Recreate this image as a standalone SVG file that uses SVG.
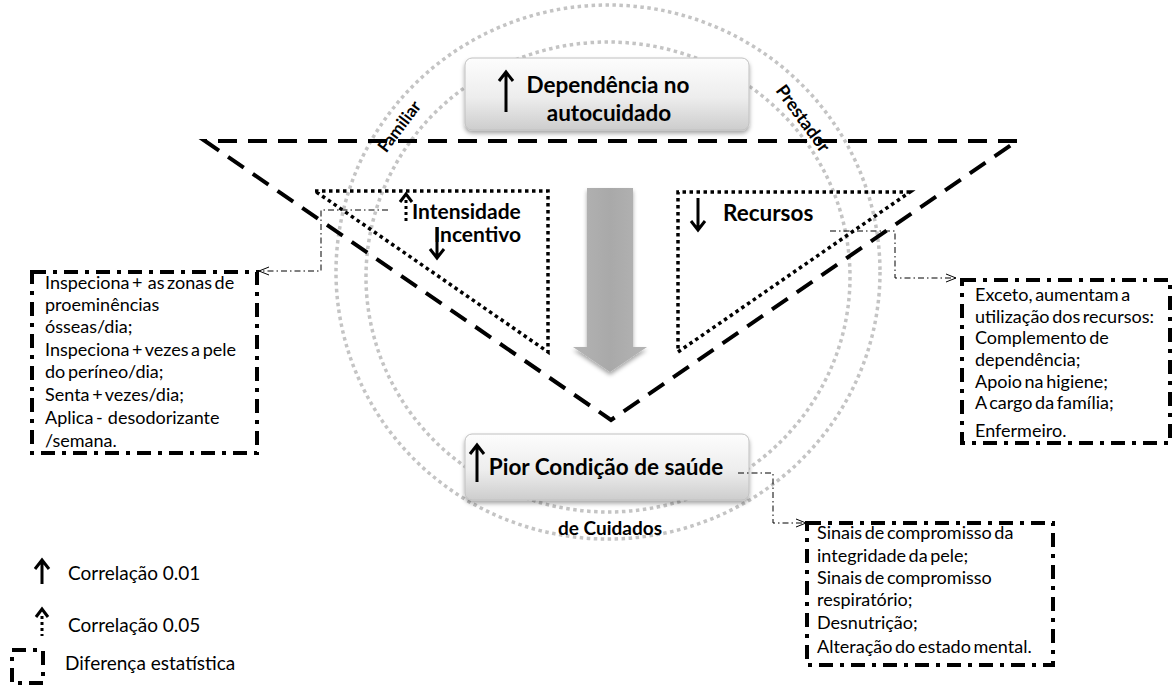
<svg xmlns="http://www.w3.org/2000/svg" width="1172" height="688" viewBox="0 0 1172 688">
<defs>
<style>
.t{font-family:Lato,'Liberation Sans',sans-serif;font-size:18px;fill:#000;word-spacing:-2px}
.lg{font-family:Lato,'Liberation Sans',sans-serif;font-size:19px;fill:#000}
.b{font-family:Lato,'Liberation Sans',sans-serif;font-weight:bold;fill:#000}
.ring{fill:none;stroke:#c4c4c4;stroke-width:3.5;stroke-dasharray:3.5 3.5}
.big{fill:none;stroke:#000;stroke-width:4;stroke-dasharray:19 11}
.dot{fill:none;stroke:#000;stroke-width:3.5;stroke-dasharray:3.5 3.5}
.dd{fill:#fff;stroke:#000;stroke-width:4;stroke-dasharray:14 7 4 7}
.con{fill:none;stroke:#000;stroke-width:1;stroke-dasharray:6 3 1.5 3}
.arr{fill:none;stroke:#000;stroke-width:3}
.box{fill:url(#boxg);stroke:#c0c0c0;stroke-width:1}
</style>
<linearGradient id="boxg" x1="0" y1="0" x2="0" y2="1">
<stop offset="0" stop-color="#fdfdfd"/><stop offset="0.55" stop-color="#ededed"/><stop offset="1" stop-color="#cdcdcd"/>
</linearGradient>
<linearGradient id="arrg" x1="0" y1="0" x2="1" y2="0">
<stop offset="0" stop-color="#b4b4b4"/><stop offset="0.5" stop-color="#a9a9a9"/><stop offset="1" stop-color="#b4b4b4"/>
</linearGradient>
<filter id="sh" x="-10%" y="-10%" width="120%" height="140%"><feDropShadow dx="0" dy="3" stdDeviation="2" flood-color="#000" flood-opacity="0.35"/></filter>
<marker id="open" markerWidth="12" markerHeight="10" refX="11" refY="5" orient="auto" markerUnits="userSpaceOnUse"><path d="M1,1 L11,5 L1,9" fill="none" stroke="#000" stroke-width="1"/></marker>
</defs>
<rect width="1172" height="688" fill="#fff"/>

<g id="rings">
<ellipse class="ring" cx="608" cy="272" rx="272" ry="267"/>
<ellipse class="ring" cx="608" cy="277" rx="242" ry="235"/>
</g>

<g id="big-triangle">
<path class="big" d="M1017,141 H205 L611,420 L1017,141"/>
</g>

<g id="triangle-intensidade">
<path class="dot" d="M315,191 H548 V352 Z"/>
<path class="arr" d="M400,202 L406,194 L412,202"/>
<path fill="none" stroke="#000" stroke-width="3" stroke-dasharray="3 3" d="M406,200 V222"/>
<text class="b" font-size="21" x="412" y="219">Intensidade</text>
<text class="b" font-size="21" x="434" y="242">Incentivo</text>
<path class="arr" d="M437,227 V257 M430,249 L437,258 L444,249"/>
</g>

<g id="triangle-recursos">
<path class="dot" d="M910,192 H678 V352 Z"/>
<path class="arr" d="M698,198 V229 M691,221 L698,230 L705,221"/>
<text class="b" font-size="22.5" x="723" y="221">Recursos</text>
</g>

<g id="flow-arrow" filter="url(#sh)">
<path fill="url(#arrg)" d="M587,188 H633 V347 H647 L610,372 L573,347 H587 Z"/>
</g>

<g id="node-dependencia">
<rect class="box" filter="url(#sh)" x="465" y="58" width="284" height="72" rx="7"/>
<path class="arr" d="M506,112 V73 M499,81 L506,72 L513,81"/>
<text class="b" font-size="22.5" x="608" y="93" text-anchor="middle">Dependência no</text>
<text class="b" font-size="22.5" x="609" y="121" text-anchor="middle">autocuidado</text>
</g>

<g id="node-pior">
<rect class="box" filter="url(#sh)" x="465" y="434" width="284" height="66" rx="7"/>
<path class="arr" d="M477,482 V446 M470,454 L477,445 L484,454"/>
<text class="b" font-size="22.5" x="606" y="475" text-anchor="middle">Pior Condição de saúde</text>
</g>

<g id="labels">
<text class="b" font-size="17" transform="translate(404,130) rotate(-53)" text-anchor="middle">Familiar</text>
<text class="b" font-size="18" transform="translate(798,122) rotate(54)" text-anchor="middle">Prestador</text>
<text class="b" font-size="19" x="610" y="535" text-anchor="middle">de Cuidados</text>
</g>

<g id="connectors">
<path class="con" d="M388,210 H321 V271 H259" marker-end="url(#open)"/>
<path class="con" d="M830,231 H895 V278 H956" marker-end="url(#open)"/>
<path class="con" d="M738,473 H773 V523 H806" marker-end="url(#open)"/>
</g>

<g id="box-left">
<rect class="dd" x="32" y="272" width="225" height="181"/>
<text class="t" x="45" xml:space="preserve"><tspan x="45" y="289">Inspeciona +  as zonas de</tspan><tspan x="45" y="311">proeminências</tspan><tspan x="45" y="333">ósseas/dia;</tspan><tspan x="45" y="356">Inspeciona + vezes a pele</tspan><tspan x="45" y="378">do períneo/dia;</tspan><tspan x="45" y="401">Senta + vezes/dia;</tspan><tspan x="45" y="424">Aplica -  desodorizante</tspan><tspan x="45" y="447">/semana.</tspan></text>
</g>

<g id="box-right">
<rect class="dd" x="962" y="280" width="208" height="163"/>
<text class="t" x="975"><tspan x="975" y="301">Exceto, aumentam a</tspan><tspan x="975" y="323">utilização dos recursos:</tspan><tspan x="975" y="344">Complemento de</tspan><tspan x="975" y="366">dependência;</tspan><tspan x="975" y="388">Apoio na higiene;</tspan><tspan x="975" y="409">A cargo da família;</tspan><tspan x="975" y="437">Enfermeiro.</tspan></text>
</g>

<g id="box-sinais">
<rect class="dd" x="807" y="523" width="246" height="142"/>
<text class="t" x="817"><tspan x="817" y="539">Sinais de compromisso da</tspan><tspan x="817" y="562">integridade da pele;</tspan><tspan x="817" y="584">Sinais de compromisso</tspan><tspan x="817" y="606">respiratório;</tspan><tspan x="817" y="629">Desnutrição;</tspan><tspan x="817" y="653">Alteração do estado mental.</tspan></text>
</g>

<g id="legend">
<path class="arr" d="M42,584 V561 M35,569 L42,560 L49,569"/>
<text class="lg" x="68" y="580">Correlação 0.01</text>
<path class="arr" d="M36,617 L42,609 L48,617"/>
<path fill="none" stroke="#000" stroke-width="3" stroke-dasharray="3 3" d="M42,616 V636"/>
<text class="lg" x="68" y="632">Correlação 0.05</text>
<rect class="dd" stroke-width="3.5" x="12" y="650" width="31" height="33" fill="none"/>
<text class="lg" x="65" y="670">Diferença estatística</text>
</g>
</svg>
